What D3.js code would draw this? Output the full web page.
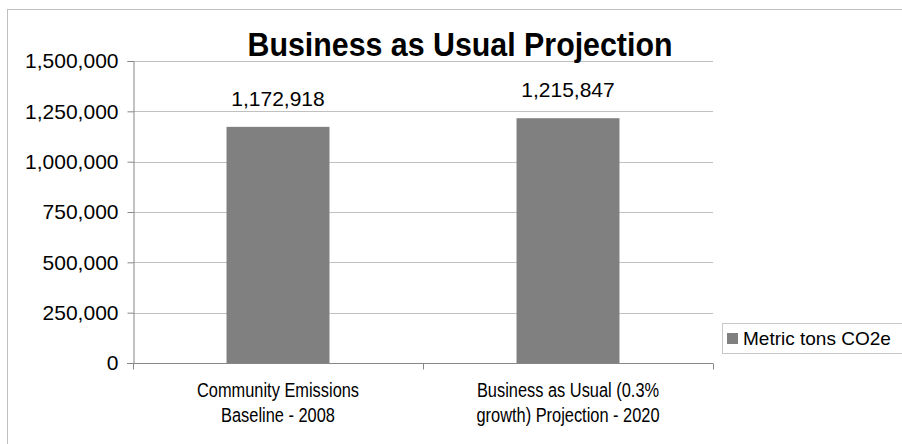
<!DOCTYPE html>
<html>
<head>
<meta charset="utf-8">
<script src="https://cdn.jsdelivr.net/npm/d3@7/dist/d3.min.js"></script>
<style>
  html, body { margin: 0; padding: 0; background: #fff; }
  svg { display: block; }
</style>
</head>
<body>
<svg id="chart" width="902" height="444"></svg>
<script>
const categories = [
  ["Community Emissions", "Baseline - 2008"],
  ["Business as Usual (0.3%", "growth) Projection - 2020"]
];
const values = [1172918, 1215847];
const yTicks = [0, 250000, 500000, 750000, 1000000, 1250000, 1500000];
const seriesName = "Metric tons CO2e";
const title = "Business as Usual Projection";

const svg = d3.select("#chart");
const sans = "'Liberation Sans', Arial, sans-serif";
const narrowScale = 0.82;

// outer chart border
svg.append("rect")
  .attr("x", 7.5).attr("y", 9.5)
  .attr("width", 1000).attr("height", 1000)
  .attr("fill", "#fff").attr("stroke", "#bfbfbf").attr("stroke-width", 1);

const plot = { left: 133, right: 713, top: 61, bottom: 363 };

const x = d3.scaleBand()
  .domain(d3.range(categories.length))
  .range([plot.left, plot.right])
  .paddingInner(0.645).paddingOuter(0.3225);

const xOuter = d3.scaleBand()
  .domain(d3.range(categories.length))
  .range([plot.left, plot.right]);

const y = d3.scaleLinear().domain([0, 1500000]).range([plot.bottom, plot.top]);

// gridlines
svg.append("g")
  .selectAll("line")
  .data(yTicks.filter(d => d > 0))
  .join("line")
  .attr("x1", plot.left).attr("x2", plot.right)
  .attr("y1", d => Math.round(y(d)) + 0.5).attr("y2", d => Math.round(y(d)) + 0.5)
  .attr("stroke", "#c0c0c0").attr("stroke-width", 1);

// bars
svg.append("g")
  .selectAll("rect")
  .data(values)
  .join("rect")
  .attr("x", (d, i) => x(i))
  .attr("width", x.bandwidth())
  .attr("y", d => y(d))
  .attr("height", d => y(0) - y(d))
  .attr("fill", "#808080");

// data labels
svg.append("g")
  .selectAll("text")
  .data(values)
  .join("text")
  .attr("x", (d, i) => x(i) + x.bandwidth() / 2)
  .attr("y", d => y(d) - 21)
  .attr("text-anchor", "middle")
  .attr("font-family", sans)
  .attr("font-size", 21)
  .attr("fill", "#000")
  .text(d => d3.format(",")(d));

// y axis
const yAxis = d3.axisLeft(y).tickValues(yTicks).tickSize(6).tickPadding(9)
  .tickFormat(d3.format(","));
const gy = svg.append("g").attr("transform", `translate(${plot.left + 0.5},0)`).call(yAxis);
gy.select(".domain").attr("stroke", "#868686");
gy.selectAll(".tick line").attr("stroke", "#868686");
gy.selectAll(".tick text").attr("font-family", sans).attr("font-size", 21).attr("fill", "#000");

// x axis
const gx = svg.append("g").attr("transform", `translate(0,${plot.bottom + 0.5})`);
gx.append("line").attr("x1", plot.left - 6).attr("x2", plot.right).attr("y1", 0).attr("y2", 0)
  .attr("stroke", "#868686");
const bounds = d3.range(categories.length + 1).map(i => i < categories.length ? xOuter(i) : xOuter(i - 1) + xOuter.bandwidth());
gx.selectAll(".xt").data(bounds).join("line").attr("class", "xt")
  .attr("x1", d => Math.round(d) + 0.5).attr("x2", d => Math.round(d) + 0.5)
  .attr("y1", 0).attr("y2", 6).attr("stroke", "#868686");

gx.selectAll(".xl").data(categories).join("text").attr("class", "xl")
  .attr("transform", (d, i) => `translate(${xOuter(i) + xOuter.bandwidth() / 2},33) scale(${narrowScale},1.05)`)
  .attr("text-anchor", "middle")
  .attr("font-family", sans)
  .attr("font-size", 20)
  .attr("fill", "#000")
  .each(function(d) {
    const t = d3.select(this);
    d.forEach((line, j) => {
      t.append("tspan").attr("x", 0).attr("y", j * 24).text(line);
    });
  });

// title
svg.append("text")
  .attr("transform", `translate(460,56) scale(0.92,1)`)
  .attr("text-anchor", "middle")
  .attr("font-family", sans)
  .attr("font-weight", "bold")
  .attr("font-size", 33)
  .attr("fill", "#000")
  .text(title);

// legend
const lg = svg.append("g");
lg.append("rect").attr("x", 722.5).attr("y", 323.5).attr("width", 300).attr("height", 30)
  .attr("fill", "#fff").attr("stroke", "#c8c8c8");
lg.append("rect").attr("x", 727).attr("y", 333).attr("width", 11).attr("height", 11).attr("fill", "#808080");
lg.append("text").attr("x", 743).attr("y", 345)
  .attr("font-family", sans).attr("font-size", 19).attr("fill", "#000")
  .text(seriesName);
</script>
</body>
</html>
